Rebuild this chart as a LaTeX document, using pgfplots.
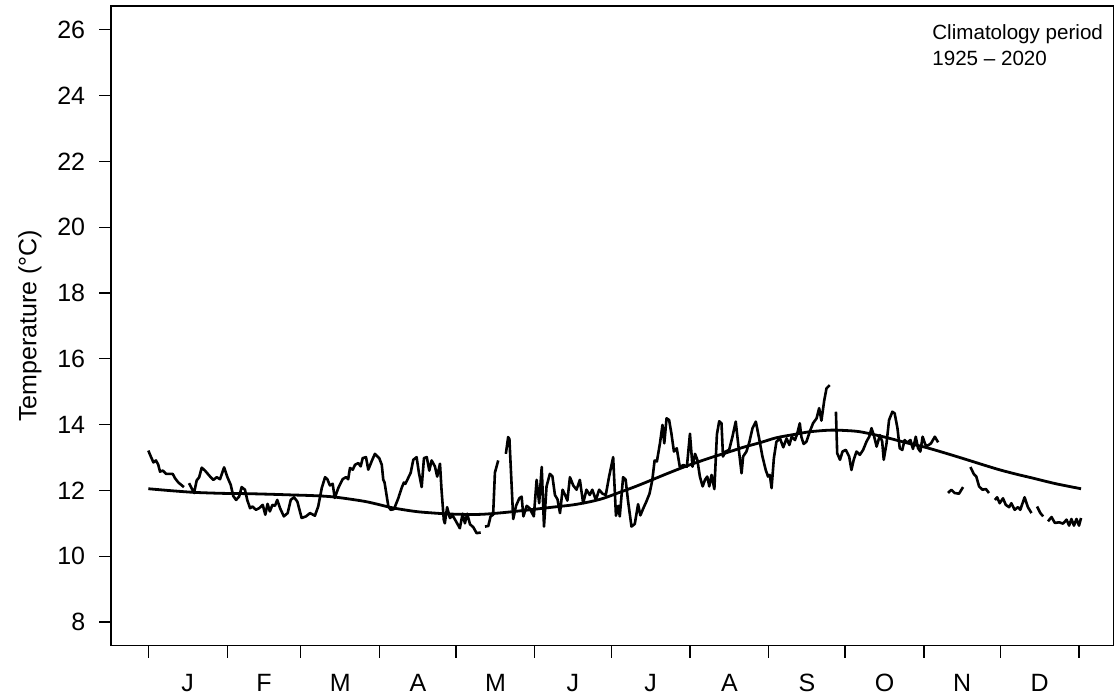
\documentclass[border=0pt]{standalone}
\usepackage{fontspec}
\setmainfont{Liberation Sans}
\usepackage{pgfplots}
\pgfplotsset{compat=1.18}
\usepackage{pgfplotstable}

\pgfplotstableread{
x y
1 13.21
1.7 13.08
3 12.85
4 12.91
4.9 12.78
5.6 12.57
6.7 12.6
8 12.5
10.6 12.5
11.5 12.37
12.8 12.24
15 12.1
16 nan
17 12.22
19 11.92
20 12.3
21 12.4
22 12.69
23.3 12.6
25.3 12.42
26.6 12.32
27.9 12.4
29.2 12.34
30.8 12.7
32 12.42
33.4 12.17
34.4 11.83
35.5 11.71
36.7 11.81
37.7 12.1
39 12.02
39.9 11.71
41 11.46
42 11.51
43.3 11.41
44.6 11.46
46 11.56
47 11.26
47.9 11.59
48.8 11.36
49.8 11.56
50.8 11.53
51.7 11.71
52.8 11.46
54.3 11.21
55.8 11.31
57 11.71
58.3 11.79
59.6 11.66
61.3 11.16
63 11.21
64.6 11.31
66.5 11.23
67.8 11.51
69.2 12.07
70.5 12.4
71.4 12.34
72.4 12.15
73.5 12.2
74.3 11.77
75.7 12.07
77.4 12.34
78.7 12.4
79.6 12.34
80.3 12.68
81.4 12.63
82.3 12.78
83.6 12.83
84.5 12.73
85.3 12.98
86.6 13.01
87.5 12.63
88.8 12.88
90.1 13.11
91.8 12.98
92.8 12.78
93.4 12.32
93.9 12.24
95.4 11.51
96.3 11.41
97.6 11.43
99.3 11.76
100.6 12.07
101.5 12.24
102.1 12.2
104.2 12.54
105.2 12.93
106.5 13.01
107.4 12.54
108.5 12.1
109.4 12.98
110.5 13.01
111.5 12.6
112.4 12.91
113.7 12.73
114.6 12.42
115.7 12.81
116.3 12.02
117.2 11.1
117.6 11.0
118.5 11.49
119.6 11.16
120.7 11.23
122 11.06
123.5 10.85
124.6 11.29
125.5 11.0
126.4 11.29
127.5 10.97
128.8 10.88
130.1 10.7
131.7 10.72
132.5 nan
133.4 10.9
134.7 10.92
135.6 11.21
136.6 11.26
137.3 12.54
138.6 12.91
140 nan
141.6 13.11
142.5 13.62
143 13.56
144.5 11.13
145.6 11.53
146.9 11.76
147.8 11.81
148.5 11.21
149.8 11.53
150.9 11.46
152.6 11.21
153.7 12.32
154.7 11.61
155.7 12.71
156.6 10.9
157.6 12.12
158.9 12.5
159.9 12.43
160.9 11.86
161.9 11.73
162.9 11.31
163.9 12.02
164.9 11.86
165.8 11.69
166.8 12.4
168.1 12.15
169.4 12.02
170.7 12.32
172 11.61
173.3 12.02
174.6 11.86
175.6 12.02
177 11.71
178.3 12.02
179.6 11.9
180.9 11.86
182.2 12.42
183.8 13.01
184.9 11.23
185.8 11.53
186.4 11.21
187.7 12.4
188.7 12.33
189.6 11.71
191 10.9
192.3 10.98
193.6 11.58
194.5 11.24
195.8 11.48
196.8 11.65
198.1 11.9
199.2 12.32
200.1 12.91
201 12.88
202.2 13.43
203.2 13.99
203.9 13.43
204.8 14.19
205.8 14.14
206.7 13.73
207.7 13.18
208.8 13.28
210 12.72
211.5 12.77
212.8 12.72
214 13.72
215 12.72
216 13.11
216.9 12.93
217.9 12.42
219 12.12
219.9 12.32
220.8 12.42
221.6 12.12
222.5 12.47
223.6 12.04
224.6 13.7
225.5 14.1
226.4 14.04
227 13.03
228 13.18
229.4 13.23
230.7 13.63
232 14.09
233.3 13.18
234.3 12.52
234.9 13.03
236.2 13.18
237.3 13.45
238.6 13.89
239.9 14.09
241.2 13.58
242.5 13.03
243.8 12.62
244.7 12.42
245.4 12.47
246.1 12.07
247 12.98
248 13.48
249.4 13.58
250.7 13.31
252 13.58
253.1 13.38
254 13.63
255.3 13.53
256.2 13.73
257.2 14.04
257.8 13.63
258.7 13.41
259.8 13.48
261.1 13.78
262.4 14.04
263.8 14.19
264.8 14.5
265.7 14.12
266.8 14.73
267.7 15.1
269 15.2
270.2 nan
271.4 14.39
271.9 13.13
273 12.93
274 13.18
275.3 13.23
276.6 13.03
277.5 12.62
278.4 12.93
279.5 13.18
280.8 13.08
282.1 13.23
283.4 13.48
284.5 13.63
285.4 13.89
286.3 13.68
287.4 13.33
288.7 13.68
289.6 13.48
290.2 12.93
291.3 13.43
292.3 14.14
293.6 14.39
294.5 14.34
295.6 13.89
296.5 13.28
297.5 13.23
298.4 13.53
299.4 13.45
300.7 13.53
301.7 13.26
302.8 13.63
303.7 13.28
304.6 13.18
305.5 13.63
306.6 13.38
307.5 13.36
308.8 13.43
310.3 13.63
311.6 13.46
313.5 nan
315.5 11.92
316.8 12.02
318.1 11.92
319.8 11.9
321.4 12.1
323 nan
324.3 12.71
325.6 12.5
326.6 12.42
327.7 12.12
329 12.02
330.4 12.04
331.6 11.92
332.8 nan
333.9 11.71
334.8 11.79
335.8 11.61
337.1 11.76
338.2 11.56
339.5 11.49
340.4 11.61
341.7 11.41
343 11.49
343.9 11.41
345.6 11.79
346.9 11.49
348.3 11.31
349.4 nan
350.5 11.51
351.8 11.31
352.9 11.21
353.8 nan
354.8 11.06
356.2 11.19
357.5 11.01
359.2 11.03
360.7 10.99
362.1 11.11
363.1 10.93
364 11.13
365 10.93
366 11.13
367 10.93
367.8 11.16
}\obsdata

\pgfplotstableread{
x y
1 12.05
10 11.99
19 11.94
30 11.91
40 11.9
50 11.88
58 11.86
66 11.84
74 11.8
85 11.68
90 11.6
97 11.47
105 11.37
110 11.33
120 11.28
131 11.27
140 11.32
151 11.41
160 11.49
168 11.56
175 11.66
180 11.76
186 11.93
193 12.13
200 12.35
206 12.54
213 12.75
222 12.99
229 13.16
235 13.31
242 13.46
248 13.6
255 13.7
261 13.78
269 13.83
275 13.82
281 13.78
290 13.63
300 13.43
307 13.3
315 13.12
323 12.93
330 12.76
336 12.62
343 12.48
349 12.37
358 12.2
367.8 12.05
}\climdata

\begin{document}
\begin{tikzpicture}
\useasboundingbox (-55.6bp,-26.15bp) rectangle (503.4bp,322.85bp);
\begin{axis}[
  at={(0,0)}, anchor=south west,
  scale only axis, width=501.2bp, height=319.85bp,
  xmin=-13.6, xmax=380.6, ymin=7.28, ymax=26.72,
  axis line style={line width=0.7bp},
  tick align=outside, tick pos=left,
  major tick length=6bp,
  tick style={line width=0.6bp, black},
  /pgf/number format/assume math mode=true,
  tick label style={font=\fontsize{12.5bp}{15bp}\selectfont},
  ytick={8,10,...,26},
  yticklabel style={anchor=east, xshift=-3.5bp},
  xtick={1,32,61,92,122,153,183,214,245,275,306,336,367},
  xticklabels={},
  extra x ticks={16.5,46.5,76.5,107,137.5,168,198.5,229.5,260,290.5,321,351.5},
  extra x tick labels={J,F,M,A,M,J,J,A,S,O,N,D},
  extra x tick style={major tick length=0pt, xticklabel style={anchor=base, yshift=-23bp}},
  ylabel={Temperature (°C)},
  ylabel style={at={(axis description cs:-0.081,0.5)}, anchor=center, font=\fontsize{12.5bp}{15bp}\selectfont},
  unbounded coords=jump,
]
\addplot[black, line width=1.3bp, line join=round] table[x=x,y=y] {\obsdata};
\addplot[black, line width=1.4bp, smooth] table[x=x,y=y] {\climdata};
\node[anchor=base west, inner sep=0pt, font=\fontsize{10.3bp}{12bp}\selectfont] at (rel axis cs:0.8188,0.9479) {Climatology period};
\node[anchor=base west, inner sep=0pt, font=\fontsize{10.3bp}{12bp}\selectfont] at (rel axis cs:0.8188,0.9067) {1925 -- 2020};
\end{axis}
\end{tikzpicture}
\end{document}
